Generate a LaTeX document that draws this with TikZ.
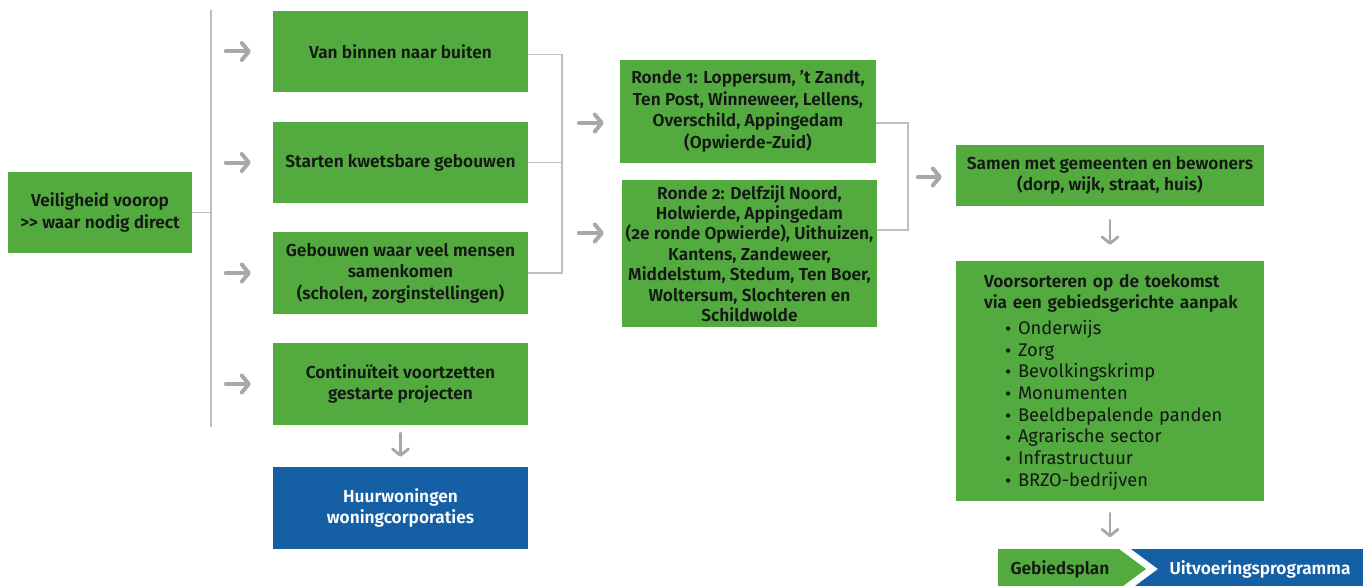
\documentclass[tikz,border=0pt]{standalone}
\usepackage{fontspec}
\setmainfont{Fira Sans}[Numbers=OldStyle, BoldFont={Fira Sans SemiBold}]
\usetikzlibrary{arrows.meta,calc}
\definecolor{rgreen}{RGB}{83,170,62}
\definecolor{rblue}{RGB}{21,96,165}
\definecolor{linegray}{RGB}{190,190,190}
\definecolor{arrgray}{RGB}{168,168,168}
\definecolor{txt}{RGB}{20,24,20}
\newcommand\boxfont{\fontsize{17.3}{21.5}\selectfont\bfseries}
\newcommand\listfont{\fontsize{18.3}{21.7}\selectfont}
\newcommand\bul{\hspace*{21pt}\makebox[13pt][l]{\raisebox{-1.2pt}{\fontsize{19}{19}\selectfont •}}}
\begin{document}
\begin{tikzpicture}[x=1pt,y=-1pt,
  gbox/.style={fill=rgreen, draw=none, text=txt, font=\boxfont, align=center, inner sep=0pt},
  bbox/.style={fill=rblue, draw=none, text=white, font=\boxfont, align=center, inner sep=0pt},
  conn/.style={draw=linegray, line width=1.6pt},
  harrow/.style={draw=arrgray, line width=4pt, line cap=round, line join=round,
    -{Straight Barb[length=7pt,width=17pt,round]}},
  varrow/.style={draw=arrgray, line width=2.8pt, line cap=round, line join=round,
    -{Straight Barb[length=6.5pt,width=16pt,round]}}]
\useasboundingbox (0,0) rectangle (1363,586);
\clip (0,0) rectangle (1363,586);

% left column
\node[gbox, minimum width=184pt, minimum height=81pt] (veil) at (100,212.5) {Veiligheid voorop\\{>}{>} waar nodig direct};
\node[gbox, minimum width=255pt, minimum height=81pt] (b1) at (400.5,51.5) {Van binnen naar buiten};
\node[gbox, minimum width=255pt, minimum height=81pt] (b2) at (400.5,162.5) {Starten kwetsbare gebouwen};
\node[gbox, minimum width=255pt, minimum height=82pt] (b3) at (400.5,273) {Gebouwen waar veel mensen\\samenkomen\\(scholen, zorginstellingen)};
\node[gbox, minimum width=255pt, minimum height=82pt] (b4) at (400.5,384) {Continuïteit voortzetten\\gestarte projecten};
\node[bbox, minimum width=255pt, minimum height=82pt] (hw) at (400.5,508) {Huurwoningen\\woningcorporaties};

% middle column
\node[gbox, minimum width=256pt, minimum height=103pt] (r1) at (748,111.5) {Ronde 1: Loppersum, ’t Zandt,\\Ten Post, Winneweer, Lellens,\\Overschild, Appingedam\\(Opwierde-Zuid)};
\node[gbox, minimum width=255pt, minimum height=147pt, font=\fontsize{17.3}{20.4}\selectfont\bfseries] (r2) at (749.5,253.5) {Ronde 2: Delfzijl Noord,\\Holwierde, Appingedam\\(2e ronde Opwierde), Uithuizen,\\Kantens, Zandeweer,\\Middelstum, Stedum, Ten Boer,\\Woltersum, Slochteren en\\Schildwolde};

% right column
\node[gbox, minimum width=308pt, minimum height=61pt] (samen) at (1110,175.5) {Samen met gemeenten en bewoners\\(dorp, wijk, straat, huis)};
\node[gbox, minimum width=308pt, minimum height=240pt] (voor) at (1110,381) {};
\node[gbox, text width=280pt, align=left, fill=none] (voorlbl) at (1124,382) {Voorsorteren op de toekomst\\via een gebiedsgerichte aanpak\\[4pt]
{\listfont\mdseries
\bul Onderwijs\\
\bul Zorg\\
\bul Bevolkingskrimp\\
\bul Monumenten\\
\bul Beeldbepalende panden\\
\bul Agrarische sector\\
\bul Infrastructuur\\
\bul BRZO-bedrijven}};

% bottom chevrons
\fill[rgreen] (998,549) -- (1119,549) -- (1146,569) -- (1119,589) -- (998,589) -- cycle;
\fill[rblue] (1131,549) -- (1363,549) -- (1363,589) -- (1131,589) -- (1158,569) -- cycle;
\node[text=txt, font=\boxfont, inner sep=0pt] (gp) at (1060,569) {Gebiedsplan};
\node[text=white, font=\boxfont, inner sep=0pt] (up) at (1260,569) {Uitvoeringsprogramma};

% connectors
\coordinate (vtop) at (211,10);
\coordinate (vbot) at (211,427);
\coordinate (bx) at (562,0);
\coordinate (rx) at (908,0);
\coordinate (y123) at (0,123);
\coordinate (y230) at (0,230);
\draw[conn] (vtop) -- (vbot);
\draw[conn] (veil.east) -- (veil.east -| vtop);
\draw[conn] ([yshift=-3pt]b1.east) -- ([yshift=-3pt]b1.east -| bx) -- (b3.east -| bx) -- (b3.east);
\draw[conn] (b2.east) -- (b2.east -| bx);
\draw[conn] (r1.east |- y123) -- (rx |- y123) -- (rx |- y230) -- (r2.east |- y230);

% arrows
\foreach \b in {b1,b2,b3,b4}{
  \draw[harrow] ([xshift=-47pt]\b.west) -- ([xshift=-22pt]\b.west);
}
\draw[harrow] ([xshift=-41pt,yshift=-11.5pt]r1.west) -- ([xshift=-16pt,yshift=-11.5pt]r1.west);
\draw[harrow] ([xshift=-43pt,yshift=20.5pt]r2.west) -- ([xshift=-18pt,yshift=20.5pt]r2.west);
\draw[harrow] ([xshift=-38pt,yshift=-1.5pt]samen.west) -- ([xshift=-14pt,yshift=-1.5pt]samen.west);
\draw[varrow] ([yshift=-8pt]b4.south) -- ([yshift=10pt]hw.north);
\draw[varrow] ([yshift=-14pt]samen.south) -- ([yshift=16pt]voor.north);
\draw[varrow] ([yshift=-12pt]voor.south) -- ([yshift=-36pt]voor.south);
\end{tikzpicture}
\end{document}
